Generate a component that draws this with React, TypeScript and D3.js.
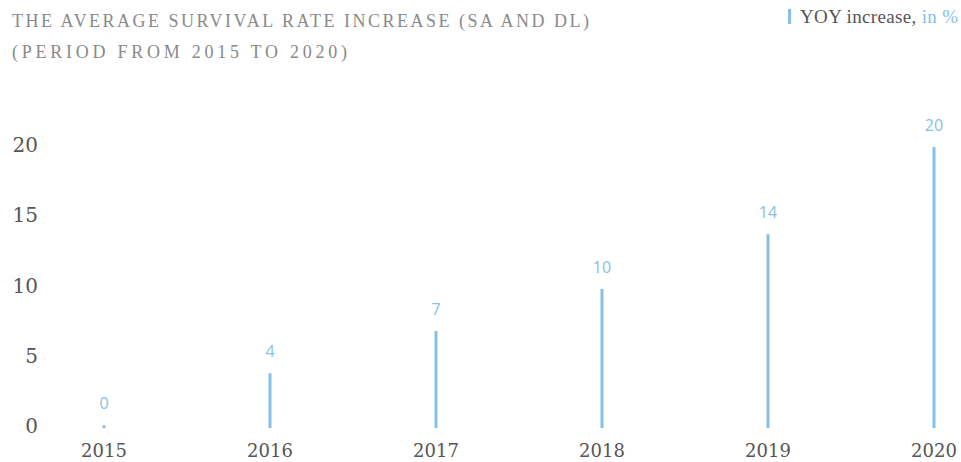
import React from "react";
import * as d3 from "d3";

const years = ["2015", "2016", "2017", "2018", "2019", "2020"];
const values = [0.2, 3.9, 6.9, 9.9, 13.8, 20];
const valueLabels = ["0", "4", "7", "10", "14", "20"];
const yTicks = [0, 5, 10, 15, 20];
const titleLines = ["THE AVERAGE SURVIVAL RATE INCREASE (SA AND DL)", "(PERIOD FROM 2015 TO 2020)"];

const W = 961;
const H = 462;
const BLUE = "#86bfe7";
const SERIF = "'Liberation Serif', serif";
const SERIF2 = "'DejaVu Serif', serif";
const SANS = "'Open Sans', 'Noto Sans', sans-serif";

export default function App() {
  const x = d3.scalePoint<string>().domain(years).range([104, 934]);
  const y = d3.scaleLinear().domain([0, 20]).range([428, 147]);

  return (
    <svg width={W} height={H} style={{ position: "absolute", left: 0, top: 0, background: "#fff" }}>
      {titleLines.map((t, i) => (
        <text key={i} x={12} y={27 + i * 31} fill="#8a8a8a" fontFamily={SERIF} fontSize={18} letterSpacing={1.1}
          textLength={i === 0 ? 578 : 336} lengthAdjust="spacing">
          {t}
        </text>
      ))}
      <rect x={788} y={9} width={3} height={15} fill={BLUE} />
      <text x={800} y={23} fontFamily={SERIF} fontSize={19} fill="#555" textLength={158} lengthAdjust="spacing">
        YOY increase, <tspan fill={BLUE}>in %</tspan>
      </text>
      {yTicks.map((t) => (
        <text key={t} x={38} y={y(t) + 5} textAnchor="end" fontFamily={SERIF2} fontSize={20} fill="#555">
          {t}
        </text>
      ))}
      {years.map((yr, i) => (
        <g key={yr}>
          <line x1={x(yr)!} x2={x(yr)!} y1={y(0)} y2={y(values[i])} stroke={BLUE} strokeWidth={3} />
          <text x={x(yr)!} y={y(values[i]) - 16} textAnchor="middle" fontFamily={SANS} fontSize={16} fill={BLUE}>
            {valueLabels[i]}
          </text>
          <text x={x(yr)!} y={457} textAnchor="middle" fontFamily={SERIF2} fontSize={18} fill="#555">
            {yr}
          </text>
        </g>
      ))}
    </svg>
  );
}
